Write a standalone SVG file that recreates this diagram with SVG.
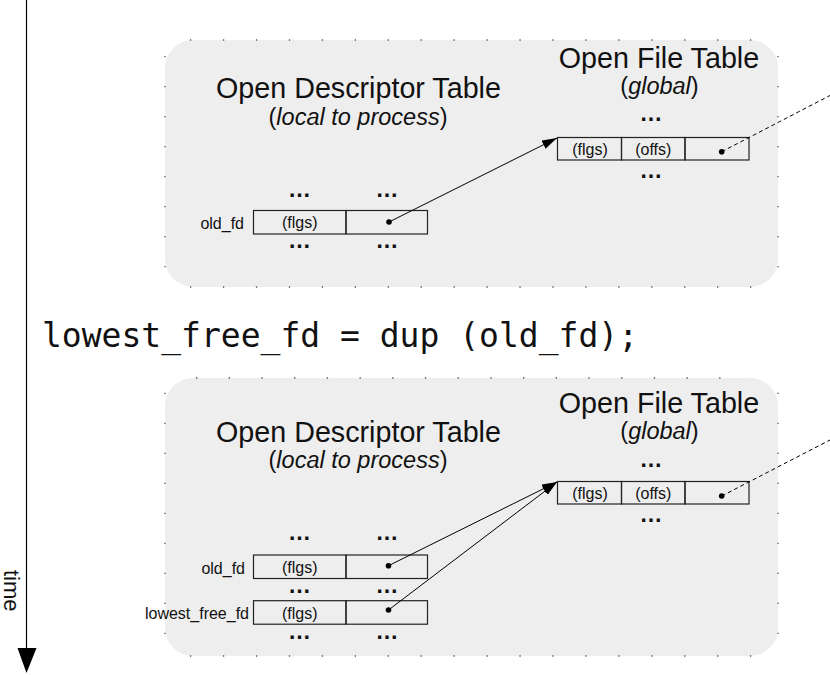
<svg xmlns="http://www.w3.org/2000/svg" width="830" height="675" viewBox="0 0 830 675">
<style>
.panel{fill:#eeeeee;stroke:none}
.dots{stroke:#555;stroke-width:1.3;fill:none}
.title{font-family:"Liberation Sans",Arial,sans-serif;font-size:28.7px;fill:#111;text-anchor:middle}
.sub{font-family:"Liberation Sans",Arial,sans-serif;font-size:23.5px;fill:#111;text-anchor:middle}
.it{font-style:italic}
.cell{fill:none;stroke:#222;stroke-width:1.2}
.lbl{font-family:"Liberation Sans",Arial,sans-serif;font-size:16px;fill:#111}
.mid{text-anchor:middle}
.end{text-anchor:end}
.ell{font-family:"Liberation Sans",Arial,sans-serif;font-size:23px;font-weight:bold;fill:#111;text-anchor:middle}
.ptr{fill:#000}
.conn{stroke:#000;stroke-width:1;fill:none}
.dash{stroke:#000;stroke-width:1;fill:none;stroke-dasharray:4 3}
.code{font-family:"DejaVu Sans Mono","Liberation Mono",monospace;font-size:33px;fill:#111}
.axis{font-family:"Liberation Sans",Arial,sans-serif;font-size:22px;fill:#111}
</style>
<defs>
<marker id="ah" markerUnits="userSpaceOnUse" markerWidth="16" markerHeight="10" refX="15" refY="4.5" orient="auto">
<path d="M0,0 L15,4.5 L0,9 z" fill="#000"/>
</marker>
</defs>

<g id="time-axis">
<line x1="26.5" y1="0" x2="26.5" y2="650" stroke="#000" stroke-width="1.2"/>
<polygon points="17.5,648 36.5,648 26.5,673" fill="#000"/>
<text class="axis" x="4" y="570" transform="rotate(90 4 570)">time</text>
</g>

<g id="panel-before">
<rect class="panel" x="165" y="40" width="613" height="247" rx="28" ry="28"/>
<line class="dots" x1="190" y1="40" x2="752" y2="40" stroke-dasharray="1.3 31.64"/>
<line class="dots" x1="190" y1="287" x2="752" y2="287" stroke-dasharray="1.3 31.64"/>
<line class="dots" x1="165" y1="56" x2="165" y2="268" stroke-dasharray="1.3 28.7"/>
<line class="dots" x1="778" y1="56" x2="778" y2="268" stroke-dasharray="1.3 28.7"/>
</g>

<g id="panel-after">
<rect class="panel" x="165" y="378" width="613" height="278" rx="28" ry="28"/>
<line class="dots" x1="196" y1="378" x2="752" y2="378" stroke-dasharray="1.3 31.4"/>
<line class="dots" x1="190" y1="656" x2="752" y2="656" stroke-dasharray="1.3 31.64"/>
<line class="dots" x1="165" y1="392.7" x2="165" y2="635" stroke-dasharray="1.3 28.7"/>
<line class="dots" x1="778" y1="392.7" x2="778" y2="635" stroke-dasharray="1.3 28.7"/>
</g>

<g id="odt-1">
<text class="title" x="358.5" y="98">Open Descriptor Table</text>
<text class="sub" x="358" y="125">(<tspan class="it">local to process</tspan>)</text>
<text class="ell" x="299.5" y="196.5">…</text>
<text class="ell" x="387" y="196.5">…</text>
<rect class="cell" x="253.5" y="210.5" width="92.5" height="23.5"/>
<rect class="cell" x="346" y="210.5" width="81.5" height="23.5"/>
<text class="lbl mid" x="299.7" y="228">(flgs)</text>
<circle class="ptr" cx="389" cy="222" r="2.8"/>
<text class="lbl end" x="244" y="228.5">old_fd</text>
<text class="ell" x="299.5" y="248">…</text>
<text class="ell" x="387" y="248">…</text>
</g>

<g id="oft-1">
<text class="title" x="659" y="68">Open File Table</text>
<text class="sub" x="659.5" y="94">(<tspan class="it">global</tspan>)</text>
<text class="ell" x="651" y="121">…</text>
<rect class="cell" x="557.5" y="137.5" width="64" height="22.5"/>
<rect class="cell" x="621.5" y="137.5" width="63.5" height="22.5"/>
<rect class="cell" x="685" y="137.5" width="64" height="22.5"/>
<text class="lbl mid" x="590" y="155">(flgs)</text>
<text class="lbl mid" x="653.3" y="155">(offs)</text>
<circle class="ptr" cx="721.7" cy="151.7" r="2.8"/>
<text class="ell" x="651" y="178">…</text>
</g>

<g id="code">
<text class="code" x="42" y="347">lowest_free_fd = dup (old_fd);</text>
</g>

<g id="odt-2">
<text class="title" x="358.5" y="442">Open Descriptor Table</text>
<text class="sub" x="358" y="468">(<tspan class="it">local to process</tspan>)</text>
<text class="ell" x="299.5" y="540">…</text>
<text class="ell" x="387" y="540">…</text>
<rect class="cell" x="253.5" y="555" width="92.5" height="23.5"/>
<rect class="cell" x="346" y="555" width="81.5" height="23.5"/>
<text class="lbl mid" x="299.7" y="573">(flgs)</text>
<circle class="ptr" cx="388.5" cy="565.7" r="2.8"/>
<text class="lbl end" x="245" y="573.5">old_fd</text>
<text class="ell" x="299.5" y="592.5">…</text>
<text class="ell" x="387" y="592.5">…</text>
<rect class="cell" x="253.5" y="600.7" width="92.5" height="23.5"/>
<rect class="cell" x="346" y="600.7" width="81.5" height="23.5"/>
<text class="lbl mid" x="299.7" y="618.5">(flgs)</text>
<circle class="ptr" cx="388.5" cy="610" r="2.8"/>
<text class="lbl end" x="249" y="618.5">lowest_free_fd</text>
<text class="ell" x="299.5" y="639">…</text>
<text class="ell" x="387" y="639">…</text>
</g>

<g id="oft-2">
<text class="title" x="659" y="412.5">Open File Table</text>
<text class="sub" x="659.5" y="438.5">(<tspan class="it">global</tspan>)</text>
<text class="ell" x="651" y="466.5">…</text>
<rect class="cell" x="557.5" y="481.5" width="64" height="22.5"/>
<rect class="cell" x="621.5" y="481.5" width="63.5" height="22.5"/>
<rect class="cell" x="685" y="481.5" width="64" height="22.5"/>
<text class="lbl mid" x="590" y="499">(flgs)</text>
<text class="lbl mid" x="653.3" y="499">(offs)</text>
<circle class="ptr" cx="721.7" cy="496" r="2.8"/>
<text class="ell" x="651" y="522">…</text>
</g>

<g id="connectors">
<line class="conn" x1="389" y1="222" x2="557" y2="138" marker-end="url(#ah)"/>
<line class="dash" x1="721.7" y1="151.7" x2="830" y2="95.5"/>
<line class="conn" x1="388.5" y1="565.7" x2="557" y2="482" marker-end="url(#ah)"/>
<line class="conn" x1="388.5" y1="610" x2="557" y2="482" marker-end="url(#ah)"/>
<line class="dash" x1="721.7" y1="496" x2="830" y2="440"/>
</g>
</svg>
